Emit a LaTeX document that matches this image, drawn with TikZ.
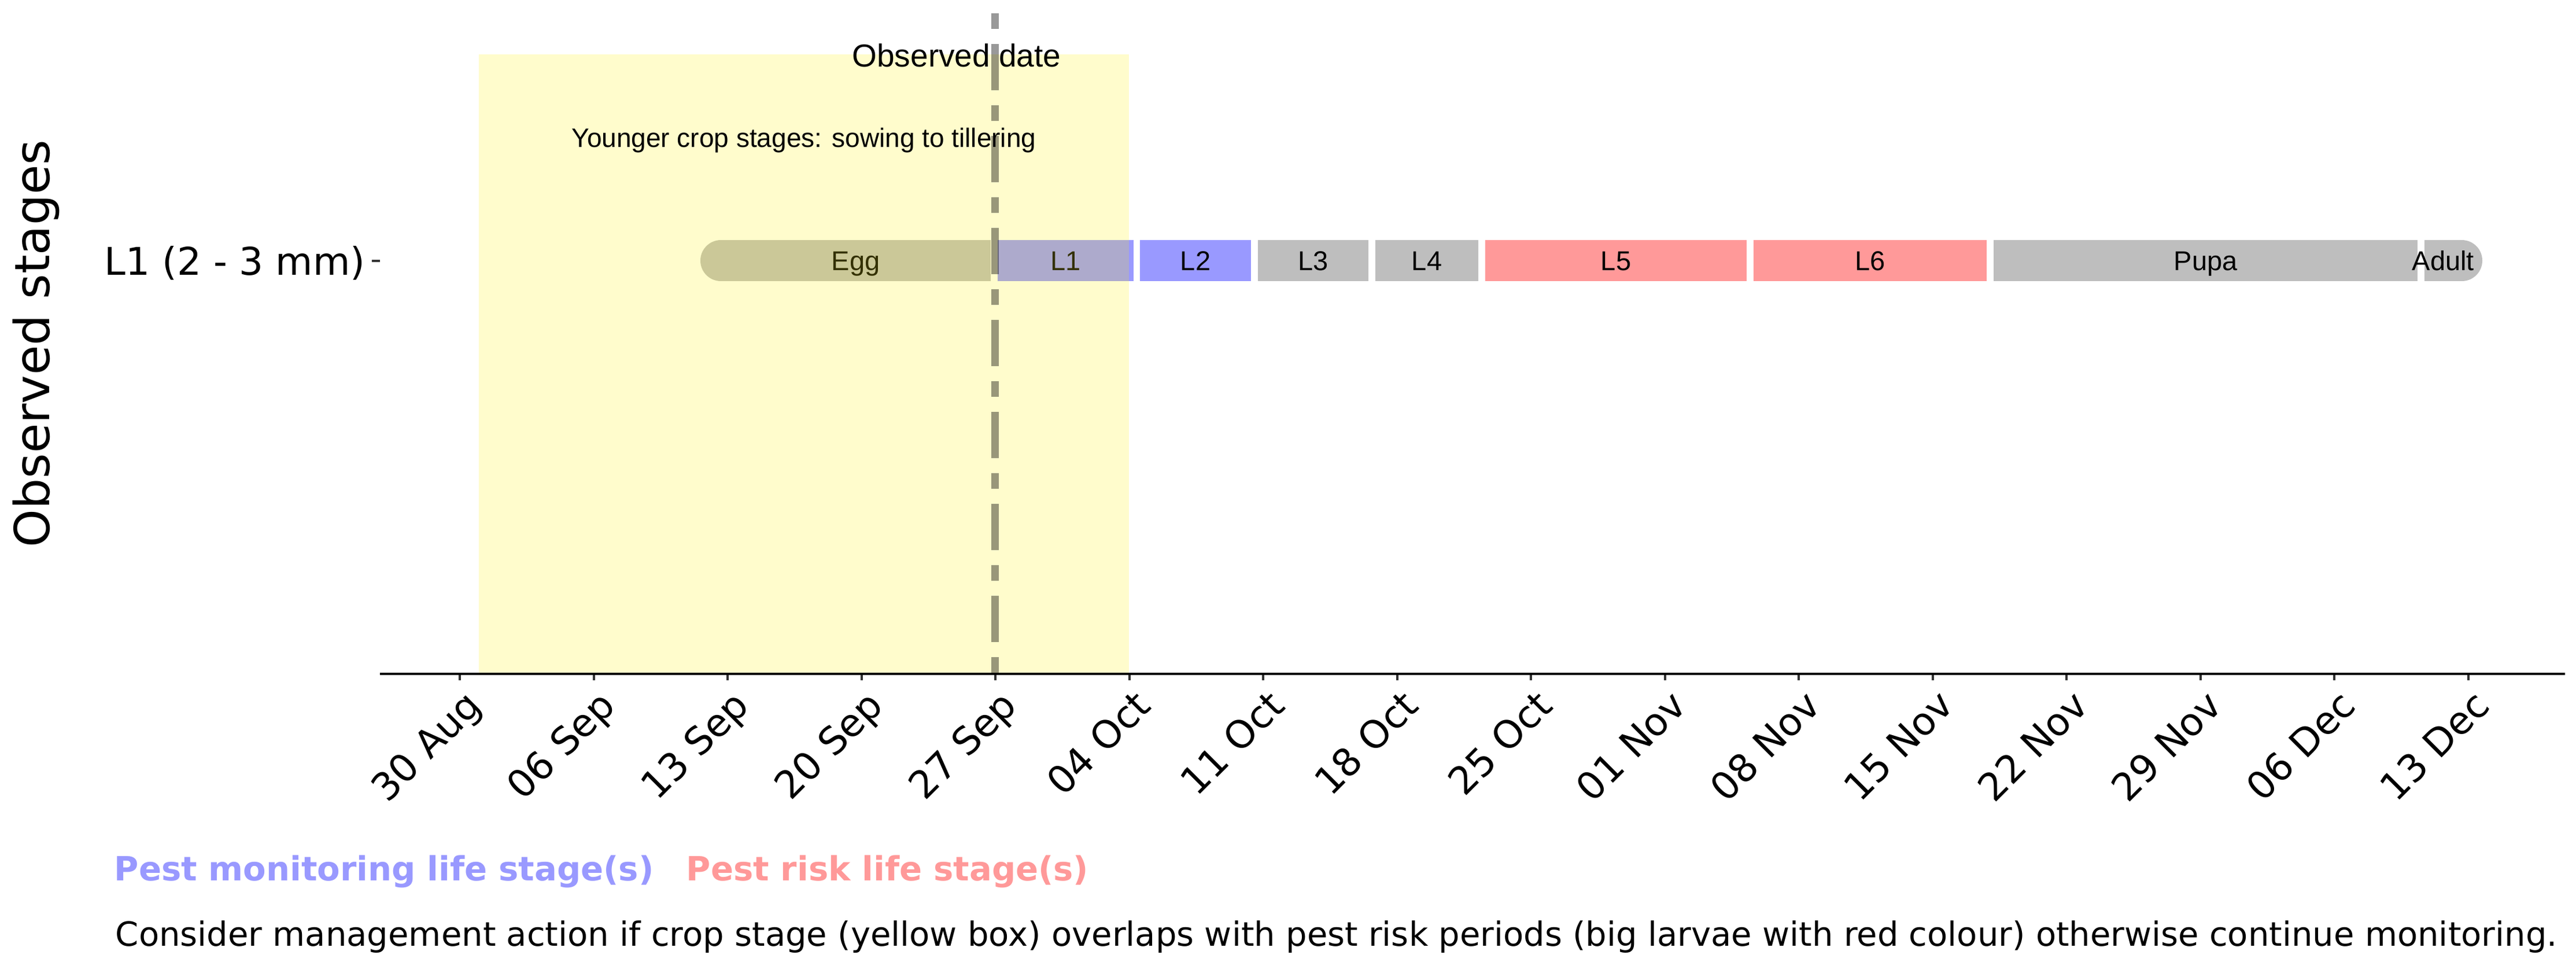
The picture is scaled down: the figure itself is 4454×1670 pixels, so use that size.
\documentclass[tikz,border=0pt]{standalone}
\usepackage{fontspec}
\setmainfont{DejaVu Sans}
\newfontfamily\arialfont{Liberation Sans}
\definecolor{stagegray}{HTML}{BEBEBE}
\definecolor{monitblue}{HTML}{9999FF}
\definecolor{riskred}{HTML}{FF9999}
\definecolor{tickgray}{HTML}{333333}
\newcommand\stagebar[5]{\node[stagebox, fill=#4, minimum width={(#3-#2)*0.25pt}] (#1) at ({(#2+#3)/2},450.5) {\makebox[0pt]{#5}};}
\begin{document}
\begin{tikzpicture}[x=0.25pt,y=-0.25pt,
  stagebox/.style={inner sep=0pt, outer sep=0pt, minimum height=17.75pt, text height=8.4pt, text depth=0pt,
    font=\arialfont\fontsize{11.75pt}{14pt}\selectfont},
  obsline/.style={draw=black, draw opacity=0.4, line width=3.25pt, dash pattern=on 6.75pt off 6.5pt on 20pt off 6.5pt},
  axisline/.style={draw=black, line width=1pt},
  tickmark/.style={draw=tickgray, line width=1pt},
  ticklab/.style={inner sep=0pt, rotate=45, anchor=north east, font=\fontsize{16.5pt}{19pt}\selectfont},
  ylab/.style={inner sep=0pt, font=\fontsize{16.5pt}{19pt}\selectfont},
  annot/.style={inner sep=0pt, anchor=base, text=black},
  legendtxt/.style={inner sep=0pt, anchor=base west, font=\bfseries\fontsize{14.4pt}{17pt}\selectfont},
  captiontxt/.style={inner sep=0pt, anchor=base west, font=\fontsize{14.4pt}{17pt}\selectfont}
]
\useasboundingbox (0,0) rectangle (4454,1670);
\fill[white] (0,0) rectangle (4454,1670);

% round ends of the life-stage bar
\coordinate (capL) at (1246.5,450.5);
\coordinate (capR) at (4256.5,450.5);
\fill[stagegray] (capL) circle[radius=35.5];
\fill[stagegray] (capR) circle[radius=35.5];

% life stages
\stagebar{egg}{1246.5}{1713}{stagegray}{Egg}
\stagebar{l1}{1725}{1960}{monitblue}{L1}
\stagebar{l2}{1971}{2163}{monitblue}{L2}
\stagebar{l3}{2175}{2366}{stagegray}{L3}
\stagebar{l4}{2378}{2556}{stagegray}{L4}
\stagebar{l5}{2568}{3020}{riskred}{L5}
\stagebar{l6}{3032}{3435}{riskred}{L6}
\stagebar{pupa}{3447}{4180}{stagegray}{Pupa}
\stagebar{adult}{4192}{4256.5}{stagegray}{Adult}

% crop stage box
\fill[yellow, opacity=0.2] (828,94) rectangle (1952,1163);

% observed date line
\coordinate (obsTop) at (1720.5,23);
\coordinate (obsBot) at (1720.5,1163);
\draw[obsline] (obsBot) -- (obsTop);

% axis
\coordinate (axL) at (657,1164.5);
\coordinate (axR) at (4435,1164.5);
\draw[axisline] (axL) -- (axR);
\foreach \k/\lab in {0/30 Aug,1/06 Sep,2/13 Sep,3/20 Sep,4/27 Sep,5/04 Oct,6/11 Oct,7/18 Oct,
  8/25 Oct,9/01 Nov,10/08 Nov,11/15 Nov,12/22 Nov,13/29 Nov,14/06 Dec,15/13 Dec}{
  \coordinate (tk\k) at ({795+231.5*\k},1166.5);
  \draw[tickmark] (tk\k) -- ++(0,9);
  \node[ticklab] (tl\k) at ({795+231.5*\k+6},1188) {\lab};
}
\coordinate (ytk) at (657,450.5);
\draw[tickmark] (ytk) -- ++(-14,0);
\node[ylab, anchor=base east] (ylabel) at (632,475.5) {L1 (2 - 3 mm)};
\node[inner sep=0pt, rotate=90, anchor=base, font=\fontsize{20.9pt}{24pt}\selectfont] (ytitle) at (85,594) {Observed stages};

% annotations
\node[annot, font=\arialfont\fontsize{13.75pt}{16pt}\selectfont] (obslab) at (1654,115) {Observed date};
\node[annot, font=\arialfont\fontsize{11.5pt}{14pt}\selectfont] (croplab) at (1390,254) {Younger crop stages: sowing to tillering};

% legend and caption
\node[legendtxt, text=monitblue] (legmon) at (197,1522) {Pest monitoring life stage(s)};
\node[legendtxt, text=riskred] (legrisk) at (1186,1522) {Pest risk life stage(s)};
\node[captiontxt] (caption) at (199,1635) {Consider management action if crop stage (yellow box) overlaps with pest risk periods (big larvae with red colour) otherwise continue monitoring.};
\end{tikzpicture}
\end{document}
